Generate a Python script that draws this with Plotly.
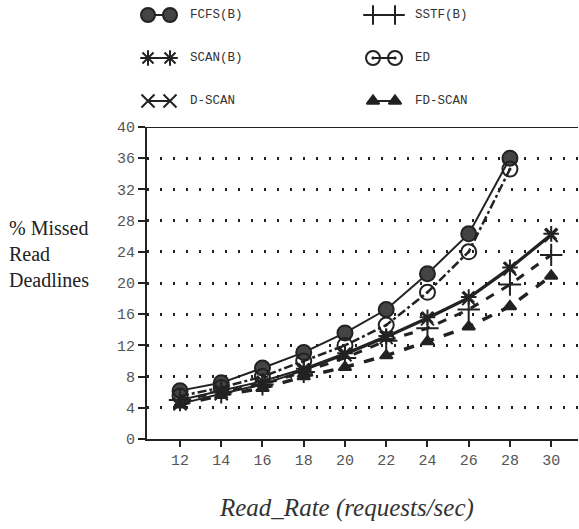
import plotly.graph_objects as go

# Arrival rate of read requests (requests/sec)
read_rate = [12, 14, 16, 18, 20, 22, 24, 26, 28, 30]

# Percentage of read requests that missed their deadlines
fcfs_b = [6.2, 7.2, 9.1, 11.1, 13.6, 16.6, 21.2, 26.3, 36.0]
sstf_b = [5.0, 6.0, 7.0, 8.6, 10.4, 12.6, 14.2, 16.6, 19.8, 23.6]
scan_b = [5.0, 6.2, 7.4, 9.0, 11.0, 13.2, 15.6, 18.2, 22.0, 26.3]
ed = [5.5, 6.6, 8.0, 10.0, 12.0, 14.6, 18.8, 24.0, 34.6]
d_scan = [4.5, 5.8, 7.0, 8.8, 10.8, 13.0, 15.4, 18.0, 21.8, 26.1]
fd_scan = [4.4, 5.6, 6.5, 8.0, 9.2, 10.7, 12.5, 14.4, 17.0, 20.9]

y_ticks = [0, 4, 8, 12, 16, 20, 24, 28, 32, 36, 40]

W, H = 579, 529
INK = "#222222"
GREY = "#444444"

series = [
    # name, values, marker symbol, marker fill, dash, line width, marker size
    ("FCFS(B)", fcfs_b, "circle", GREY, "solid", 2, 15),
    ("SSTF(B)", sstf_b, "cross-thin", INK, "dash", 3, 16),
    ("SCAN(B)", scan_b, "asterisk", INK, "solid", 2, 13),
    ("ED", ed, "circle-open-dot", INK, "dashdot", 2.5, 15),
    ("D-SCAN", d_scan, "x-thin", INK, "solid", 2, 13),
    ("FD-SCAN", fd_scan, "triangle-up", INK, "dash", 3.5, 11),
]

fig = go.Figure()

for name, vals, sym, col, dash, lw, ms in series:
    fig.add_trace(go.Scatter(
        x=read_rate[:len(vals)], y=vals, mode="lines+markers", name=name,
        line=dict(color=INK, width=lw, dash=dash),
        marker=dict(symbol=sym, size=ms, color=col,
                    line=dict(color=INK, width=2)),
        showlegend=False,
    ))

# Hand-made key above the plot (pixel-like overlay axes):
# two markers joined by a short line, then the label
key_rows = [15, 58, 101]
key_cols = [148, 373]
for i, (name, vals, sym, col, dash, lw, ms) in enumerate(series):
    row = key_rows[i // 2]
    c0 = key_cols[i % 2]
    fig.add_trace(go.Scatter(
        x=[c0, c0 + 22], y=[row, row], mode="lines+markers",
        xaxis="x2", yaxis="y2",
        line=dict(color=INK, width=2),
        marker=dict(symbol=sym, size=min(ms, 14), color=col,
                    line=dict(color=INK, width=2)),
        showlegend=False, hoverinfo="skip",
    ))
    fig.add_annotation(
        x=c0 + 40, y=row, xref="x2", yref="y2", text=name,
        showarrow=False, xanchor="left", yanchor="middle",
        font=dict(family="Liberation Mono", size=12.5, color="#333333"),
    )

fig.update_layout(
    width=W, height=H,
    margin=dict(l=0, r=0, t=0, b=0, autoexpand=False),
    plot_bgcolor="rgba(0,0,0,0)", paper_bgcolor="white",
    xaxis=dict(
        domain=[147 / W, 578 / W],
        range=[10.4, 31.3], tickvals=read_rate,
        ticks="outside", ticklen=6, tickwidth=2, tickcolor=INK,
        showline=True, linecolor=INK, linewidth=2, mirror=False,
        showgrid=False, zeroline=False, automargin=False,
        tickfont=dict(family="Liberation Mono", size=15, color="#555555"),
    ),
    yaxis=dict(
        domain=[1 - 439 / H, 1 - 127 / H],
        range=[0, 40], tickvals=y_ticks,
        ticks="outside", ticklen=7, tickwidth=2, tickcolor=INK,
        showline=True, linecolor=INK, linewidth=2,
        showgrid=True, gridcolor=INK, gridwidth=2.5, griddash="2px,11px",
        zeroline=False, automargin=False,
        tickfont=dict(family="Liberation Mono", size=15, color="#555555"),
    ),
    xaxis2=dict(domain=[0, 1], range=[0, W], visible=False, anchor="y2",
                automargin=False),
    yaxis2=dict(domain=[0, 1], range=[H, 0], visible=False, anchor="x2",
                automargin=False),
    showlegend=False,
)

# Top border of the plot at 40
fig.add_shape(type="line", xref="x domain", yref="y", x0=0, x1=1,
              y0=40, y1=40, line=dict(color=INK, width=2))

fig.add_annotation(
    xref="paper", yref="paper", x=346 / W, y=1 - 508 / H, xanchor="center",
    yanchor="middle", showarrow=False,
    text="<i>Read_Rate (requests/sec)</i>",
    font=dict(family="Liberation Serif", size=25, color="#333333"),
)
fig.add_annotation(
    xref="paper", yref="paper", x=7 / W, y=1 - 254 / H, xanchor="left",
    yanchor="middle", showarrow=False, align="left",
    text="% Missed<br>Read<br>Deadlines",
    font=dict(family="Liberation Serif", size=20, color="#222222"),
)

fig.write_html("out.html")
